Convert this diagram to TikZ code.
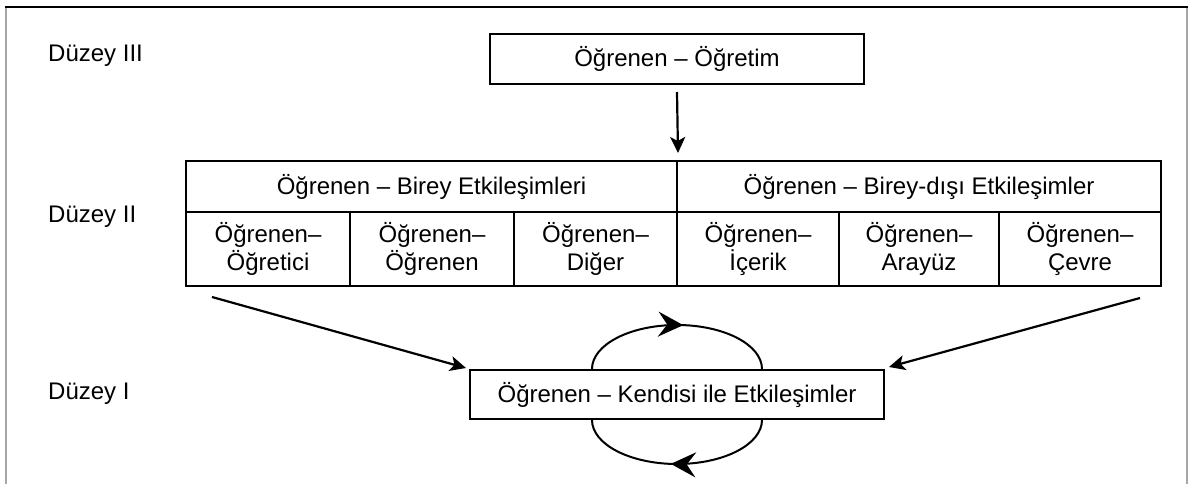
\documentclass[tikz,border=0pt]{standalone}
\usepackage{fontspec}
\setmainfont{Liberation Sans}
\usetikzlibrary{arrows.meta,decorations.markings}
\begin{document}
\begin{tikzpicture}[x=1pt,y=-1pt,
  every node/.style={font=\fontsize{24}{28}\selectfont},
  box/.style={draw,line width=2pt,inner sep=0pt,align=center,anchor=north west},
  lvl/.style={anchor=west,inner sep=0pt},
  arr/.style={line width=2.2pt,-{Stealth[length=16pt,width=15pt,inset=4pt]}},
  looparrow/.style={line width=2pt,postaction={decorate},decoration={markings,
    mark=at position 0.53 with {\arrow{Stealth[length=25pt,width=25pt,inset=9pt]}}}}]
\useasboundingbox (0,0) rectangle (1188,484);
% outer frame, open at the bottom
\draw[gray!70,line width=1.6pt] (6,484) -- (6,7);
\draw[gray!70,line width=1.6pt] (1187,7) -- (1187,484);
\draw[line width=2pt] (5,7) -- (1188,7);

% level labels
\node[lvl] (l3) at (48,56) {Düzey III};
\node[lvl] (l2) at (48,217) {Düzey II};
\node[lvl] (l1) at (48,394) {Düzey I};

% level III
\node[box,minimum width=374pt,minimum height=50pt] (top) at (489,33) {Öğrenen – Öğretim};

% level II table
\node[box,minimum width=491pt,minimum height=51pt] (h1) at (185,160) {Öğrenen – Birey Etkileşimleri};
\node[box,minimum width=484pt,minimum height=51pt] (h2) at (676,160) {Öğrenen – Birey-dışı Etkileşimler};
\node[box,minimum width=164pt,minimum height=74pt] (c1) at (185,211) {Öğrenen–\\Öğretici};
\node[box,minimum width=164pt,minimum height=74pt] (c2) at (349,211) {Öğrenen–\\Öğrenen};
\node[box,minimum width=163pt,minimum height=74pt] (c3) at (513,211) {Öğrenen–\\Diğer};
\node[box,minimum width=162pt,minimum height=74pt] (c4) at (676,211) {Öğrenen–\\İçerik};
\node[box,minimum width=160pt,minimum height=74pt] (c5) at (838,211) {Öğrenen–\\Arayüz};
\node[box,minimum width=162pt,minimum height=74pt] (c6) at (998,211) {Öğrenen–\\Çevre};

% level I
\node[box,minimum width=414pt,minimum height=49pt] (self) at (469,369) {Öğrenen – Kendisi ile Etkileşimler};

% connectors
\draw[arr] ([yshift=-7pt]top.south) -- ([yshift=7pt]h1.north east);
\coordinate (ls) at (212,297);
\coordinate (rs) at (1140,298);
\draw[arr] (ls) -- ([xshift=-3pt,yshift=1pt]self.north west);
\draw[arr] (rs) -- ([xshift=4pt,yshift=2pt]self.north east);

% self-interaction loops
\draw[looparrow] ([xshift=-85pt]self.north) arc[start angle=180,end angle=360,x radius=85,y radius=44];
\draw[looparrow] ([xshift=85pt]self.south) arc[start angle=0,end angle=180,x radius=85,y radius=44];
\end{tikzpicture}
\end{document}
